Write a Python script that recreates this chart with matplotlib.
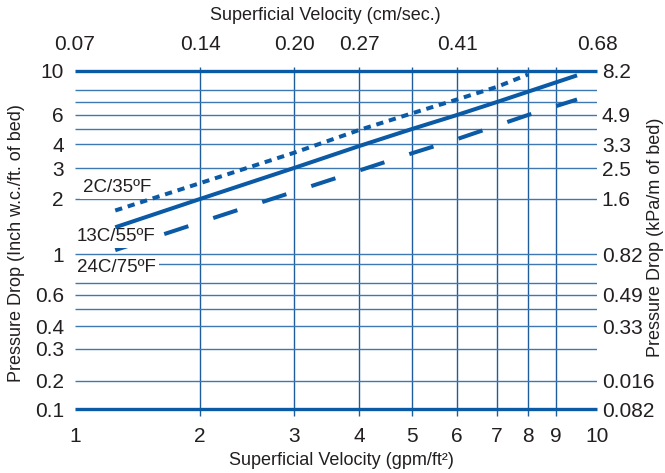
#!/usr/bin/env python
# pressure drop across the bed vs superficial velocity, three water temperatures
import numpy as np
import matplotlib.pyplot as plt

plt.rcParams['font.family'] = ['Liberation Sans', 'DejaVu Sans']

# superficial velocity, gpm/ft2
velocity = [1.25, 2, 3, 4, 5, 6, 7, 8, 9.5]
# pressure drop, inch w.c./ft. of bed
drop_2c = [1.73, 2.46, 3.6, 4.92, 6.12, 7.2, 8.3, 9.6]
drop_13c = [1.40, 2.0, 3.0, 3.9, 5.0, 6.0, 7.0, 7.85, 9.5]
drop_24c = [1.05, 1.49, 2.2, 2.9, 3.58, 4.3, 5.23, 6.0, 7.2]
series_names = ['2C/35ºF', '13C/55ºF', '24C/75ºF']

x_ticks = [1, 2, 3, 4, 5, 6, 7, 8, 9, 10]
top_ticks = [1, 2, 3, 4, 6, 10]
top_labels = ['0.07', '0.14', '0.20', '0.27', '0.41', '0.68']
left_ticks = [10, 6, 4, 3, 2, 1, 0.6, 0.4, 0.3, 0.2, 0.1]
right_ticks = [10, 6, 4, 3, 2, 1, 0.6, 0.4, 0.2, 0.1]
right_labels = ['8.2', '4.9', '3.3', '2.5', '1.6', '0.82', '0.49', '0.33',
                '0.016', '0.082']
h_grid = [8, 7, 6, 5, 4, 3, 2, 1, 0.9, 0.7, 0.6, 0.5, 0.4, 0.3, 0.2]
v_grid = [2, 3, 4, 5, 6, 7, 8, 9]

# the printed grid is not a true log grid, so the scale follows its gridlines
x_knots = [1, 2, 3, 4, 5, 6, 7, 8, 9, 10]
x_knot_pos = [0, 125, 219, 284, 337, 382, 422, 453, 481, 522]
y_knots = [0.1, 0.2, 0.3, 0.4, 0.5, 0.6, 0.7, 0.9, 1, 2, 3, 4, 5, 6, 7, 8, 10]
y_knot_pos = [0, 28, 60, 83, 100, 114, 126, 145, 155, 210, 241, 265, 280,
              294, 307, 319, 338]

BLUE = '#0b5aa5'
VCOL = '#1f5c9e'
HCOL = '#3d78b3'
TXT = '#231f20'
TICK_FS = 15
LABEL_FS = 13
NAME_FS = 13.5


def grid_scale(knots, pos):
    lk = np.log10(knots)
    p = np.asarray(pos, float) / pos[-1]

    def fwd(v):
        v = np.clip(np.asarray(v, float), 1e-6, None)
        return np.interp(np.log10(v), lk, p)

    def inv(t):
        return 10 ** np.interp(t, p, lk)
    return fwd, inv


fx = grid_scale(x_knots, x_knot_pos)
fy = grid_scale(y_knots, y_knot_pos)

fig = plt.figure(figsize=(6.65, 4.73), dpi=100)
ax = fig.add_axes([75 / 665, 64 / 473, 522 / 665, 338 / 473])
ax.set_xscale('function', functions=fx)
ax.set_yscale('function', functions=fy)
ax.set_xlim(1, 10)
ax.set_ylim(0.1, 10)

# grid
ax.vlines(v_grid, -0.022, 1.013, transform=ax.get_xaxis_transform(),
          colors=VCOL, lw=1.0, clip_on=False, zorder=1)
ax.hlines(h_grid, 1, 10, colors=HCOL, lw=1.0, zorder=1)
ax.hlines([10, 0.1], 1, 10, colors=BLUE, lw=2.4, clip_on=False, zorder=1)

# curves
ax.plot(velocity[:len(drop_2c)], drop_2c, color=BLUE, lw=2.9,
        dashes=(1.8, 1.45), dash_capstyle='butt', zorder=3)
ax.plot(velocity, drop_13c, color=BLUE, lw=2.9, solid_capstyle='butt',
        zorder=3)
ax.plot(velocity, drop_24c, color=BLUE, lw=2.9, dashes=(6.3, 6.5),
        dash_capstyle='butt', zorder=2)

label_pos = [(0.015, 0.655), (0.004, 0.509), (0.004, 0.420)]
for name, (tx, ty) in zip(series_names, label_pos):
    ax.text(tx, ty, name, transform=ax.transAxes, ha='left', va='center',
            fontsize=NAME_FS, color=TXT, zorder=2.5,
            bbox=dict(facecolor='white', edgecolor='none', pad=2))

ax.set_xticks(x_ticks, [str(v) for v in x_ticks])
ax.set_yticks(left_ticks, ['%g' % v for v in left_ticks])
ax.minorticks_off()
ax.tick_params(length=0, labelsize=TICK_FS, colors=TXT)
ax.tick_params(axis='x', pad=13)
ax.tick_params(axis='y', pad=8)

ax_r = ax.twinx()
ax_r.set_yscale('function', functions=fy)
ax_r.set_ylim(0.1, 10)
ax_r.set_yticks(right_ticks, right_labels)
ax_r.minorticks_off()
ax_r.tick_params(length=0, labelsize=TICK_FS, pad=3.5, colors=TXT)

ax_t = ax.twiny()
ax_t.set_xscale('function', functions=fx)
ax_t.set_xlim(1, 10)
ax_t.set_xticks(top_ticks, top_labels)
ax_t.minorticks_off()
ax_t.tick_params(length=0, labelsize=TICK_FS, pad=12.5, colors=TXT)

for a in (ax, ax_r, ax_t):
    for s in a.spines.values():
        s.set_visible(False)

fig.text(325 / 665, 1 - 16 / 473, 'Superficial Velocity (cm/sec.)',
         ha='center', va='center', fontsize=LABEL_FS, color=TXT)
fig.text(341 / 665, 1 - 460 / 473, 'Superficial Velocity (gpm/ft²)',
         ha='center', va='center', fontsize=LABEL_FS, color=TXT)
fig.text(17 / 665, 1 - 243 / 473, 'Pressure Drop (Inch w.c./ft. of bed)',
         ha='center', va='center', rotation=90, fontsize=LABEL_FS, color=TXT)
fig.text(656 / 665, 1 - 237 / 473, 'Pressure Drop (kPa/m of bed)',
         ha='center', va='center', rotation=90, fontsize=LABEL_FS, color=TXT)

fig.savefig('out.png', dpi=100)
